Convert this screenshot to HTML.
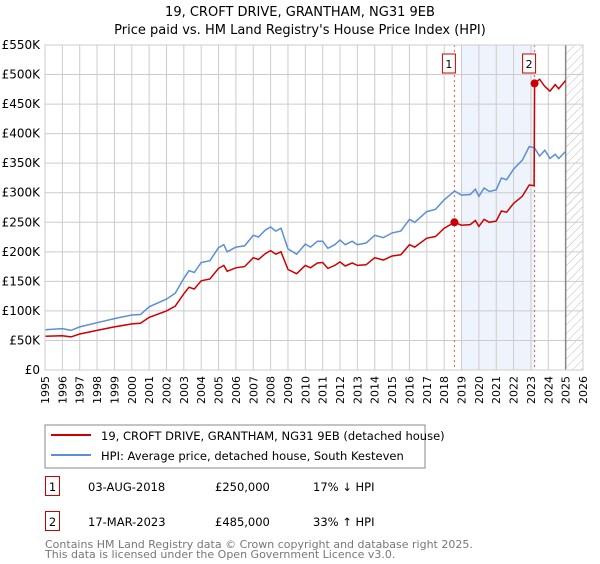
<!DOCTYPE html>
<html><head><meta charset="utf-8"><style>
body{margin:0;background:#fff;font-family:"DejaVu Sans","Liberation Sans",sans-serif;}
svg text{font-family:"DejaVu Sans","Liberation Sans",sans-serif;}
</style></head><body>
<svg id="chart" width="600" height="560" xmlns="http://www.w3.org/2000/svg">
<defs><pattern id="hatch" width="6" height="6" patternUnits="userSpaceOnUse" patternTransform="rotate(45)"><line x1="0" y1="0" x2="0" y2="6" stroke="#bbb" stroke-width="1"/></pattern></defs>
<text x="300" y="16" text-anchor="middle" font-size="13">19, CROFT DRIVE, GRANTHAM, NG31 9EB</text>
<text x="300" y="34" text-anchor="middle" font-size="13">Price paid vs. HM Land Registry's House Price Index (HPI)</text>
<g id="plot"></g>
<rect x="45" y="425" width="380" height="43" fill="#fff" stroke="#888"/>
<line x1="51" y1="435" x2="91" y2="435" stroke="#cc0000" stroke-width="2"/>
<text x="101" y="440" font-size="11.5">19, CROFT DRIVE, GRANTHAM, NG31 9EB (detached house)</text>
<line x1="51" y1="455" x2="91" y2="455" stroke="#5b8fd4" stroke-width="2"/>
<text x="101" y="460" font-size="11.5">HPI: Average price, detached house, South Kesteven</text>
<g font-size="11.5">
<rect x="45.5" y="476.5" width="14" height="19" fill="none" stroke="#cc0000"/>
<text x="52.5" y="491" text-anchor="middle">1</text>
<text x="88" y="491">03-AUG-2018</text>
<text x="215" y="491">£250,000</text>
<text x="313" y="491">17% ↓ HPI</text>
<rect x="45.5" y="511.5" width="14" height="19" fill="none" stroke="#cc0000"/>
<text x="52.5" y="526" text-anchor="middle">2</text>
<text x="88" y="526">17-MAR-2023</text>
<text x="215" y="526">£485,000</text>
<text x="313" y="526">33% ↑ HPI</text>
</g>
<text x="45" y="548" font-size="11" fill="#777">Contains HM Land Registry data © Crown copyright and database right 2025.</text>
<text x="45" y="558" font-size="11" fill="#777">This data is licensed under the Open Government Licence v3.0.</text>
</svg>
<script>
const yTicks=[0,50,100,150,200,250,300,350,400,450,500,550];
const yTickLabels=["£0","£50K","£100K","£150K","£200K","£250K","£300K","£350K","£400K","£450K","£500K","£550K"];
const xYears=[1995,1996,1997,1998,1999,2000,2001,2002,2003,2004,2005,2006,2007,2008,2009,2010,2011,2012,2013,2014,2015,2016,2017,2018,2019,2020,2021,2022,2023,2024,2025,2026];
const hpiDates=[1995,1996,1996.5,1997,1998,1999,2000,2000.5,2001,2002,2002.5,2003,2003.3,2003.6,2004,2004.5,2005,2005.3,2005.5,2006,2006.5,2007,2007.3,2007.7,2008,2008.3,2008.6,2009,2009.5,2010,2010.3,2010.7,2011,2011.3,2011.7,2012,2012.3,2012.7,2013,2013.5,2014,2014.5,2015,2015.5,2016,2016.3,2017,2017.5,2018,2018.6,2019,2019.5,2019.8,2020,2020.3,2020.6,2021,2021.3,2021.6,2022,2022.5,2022.9,2023.2,2023.5,2023.8,2024.1,2024.4,2024.6,2025];
const hpiValues=[68,70,67,73,80,87,93,94,107,120,130,155,168,165,182,185,207,212,200,208,210,228,225,237,242,235,240,205,196,213,208,218,218,206,212,220,212,218,212,215,228,224,232,235,255,250,268,272,288,303,296,297,306,294,308,302,305,325,322,340,355,378,376,362,372,358,365,358,370];
const priceDates=[1995,1996,1996.5,1997,1998,1999,2000,2000.5,2001,2002,2002.5,2003,2003.3,2003.6,2004,2004.5,2005,2005.3,2005.5,2006,2006.5,2007,2007.3,2007.7,2008,2008.3,2008.6,2009,2009.5,2010,2010.3,2010.7,2011,2011.3,2011.7,2012,2012.3,2012.7,2013,2013.5,2014,2014.5,2015,2015.5,2016,2016.3,2017,2017.5,2018,2018.59,2019,2019.5,2019.8,2020,2020.3,2020.6,2021,2021.3,2021.6,2022,2022.5,2022.9,2023.18,2023.21,2023.5,2023.8,2024.1,2024.4,2024.6,2025];
const priceValues=[57,58,56,61,67,73,78,79,89,100,108,129,140,137,151,154,172,177,167,173,175,190,187,197,202,196,200,170,163,177,173,181,182,172,177,183,176,181,177,178,190,186,193,195,212,208,223,226,240,250,245,246,253,243,255,250,252,269,267,282,294,313,312,485,492,480,472,483,476,490];
const saleDates=[2018.59,2023.21];
const saleValues=[250,485];
const saleLabels=["1","2"];
const shadeRange=[2019.0,2023.21];
const forecastStart=2025;

const L=45,R=583,T=45,B=370,NS="http://www.w3.org/2000/svg";
const x=d=>L+(d-1995)/(2026-1995)*(R-L);
const y=v=>B-v/550*(B-T);
const g=document.getElementById('plot');
function mk(tag,attrs){const e=document.createElementNS(NS,tag);for(const k in attrs)e.setAttribute(k,attrs[k]);g.appendChild(e);return e;}
const shade=mk('rect',{x:x(shadeRange[0]),y:T,width:x(shadeRange[1])-x(shadeRange[0]),height:B-T,fill:'#eef3fc'});


const hat=mk('rect',{x:x(forecastStart),y:T,width:R-x(forecastStart),height:B-T,fill:'url(#hatch)'});


yTicks.forEach((v,i)=>{
 const ln=mk('line',{x1:L,x2:R,y1:y(v),y2:y(v),stroke:'#ccc'});
 
 
 const t=mk('text',{x:L-5,y:y(v)+4,'text-anchor':'end','font-size':'12'});t.textContent=yTickLabels[i];
 
 
});
xYears.forEach(yr=>{
 const ln=mk('line',{x1:x(yr),x2:x(yr),y1:T,y2:B,stroke:'#ccc'});
 
 
 const tx=x(yr)+4, ty=376;
 const t=mk('text',{x:tx,y:ty,'text-anchor':'end','font-size':'11',transform:'rotate(-90 '+tx+' '+ty+')'});t.textContent=yr;
 
 
});
const fl=mk('line',{x1:x(forecastStart),x2:x(forecastStart),y1:T,y2:B,stroke:'#888','stroke-width':1.5});


saleDates.forEach((d,i)=>{
 const ln=mk('line',{x1:x(d),x2:x(d),y1:T,y2:B,stroke:'#ee5555','stroke-dasharray':'2,3'});
 
 
});
const pts=(ds,vs)=>ds.map((d,i)=>x(d).toFixed(1)+','+y(vs[i]).toFixed(1)).join(' ');
const hl=mk('polyline',{points:pts(hpiDates,hpiValues),fill:'none',stroke:'#5b8fd4','stroke-width':1.5});


const pl=mk('polyline',{points:pts(priceDates,priceValues),fill:'none',stroke:'#cc0000','stroke-width':1.5});


saleDates.forEach((d,i)=>{
 const c=mk('circle',{cx:x(d),cy:y(saleValues[i]),r:4,fill:'#cc0000'});
 
 
 const b=mk('rect',{x:x(d)-12,y:54,width:13,height:19,fill:'#fff',stroke:'#cc0000'});
 
 
 const t=mk('text',{x:x(d)-5.5,y:68,'text-anchor':'middle','font-size':'11'});t.textContent=saleLabels[i];
 
 
});
const fr=mk('rect',{x:L,y:T,width:R-L,height:B-T,fill:'none',stroke:'#ccc'});


</script>
</body></html>
